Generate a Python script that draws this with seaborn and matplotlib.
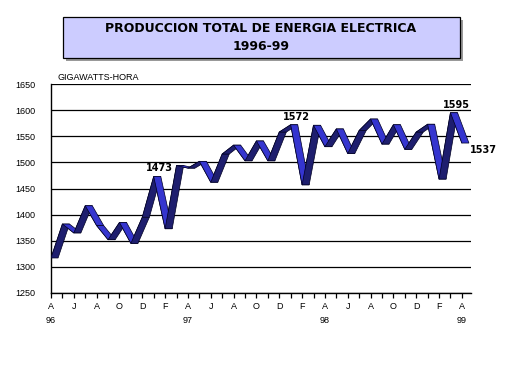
import numpy as np
import pandas as pd
import matplotlib
matplotlib.use("Agg")
import matplotlib.pyplot as plt
import seaborn as sns

# datos mensuales abril 1996 - abril 1999 (gigawatts-hora)
meses = ["A", "M", "J", "J", "A", "S", "O", "N", "D", "E", "F", "M"] * 3 + ["A"]
anios = {0: "96", 12: "97", 24: "98", 36: "99"}
produccion = [1317, 1382, 1365, 1417, 1379, 1352, 1385, 1345, 1395, 1473,
              1373, 1494, 1489, 1502, 1462, 1516, 1533, 1503, 1541, 1503,
              1558, 1572, 1457, 1571, 1530, 1564, 1517, 1561, 1583, 1535,
              1572, 1525, 1558, 1573, 1468, 1595, 1537]
etiquetas = {9: "1473", 21: "1572", 35: "1595", 36: "1537"}

df = pd.DataFrame({"mes": np.arange(len(produccion)), "gwh": produccion})

sns.set_style("white")
plt.rcParams["font.family"] = ["Liberation Sans", "DejaVu Sans"]
plt.rcParams["text.color"] = "black"
plt.rcParams["xtick.color"] = "black"
plt.rcParams["ytick.color"] = "black"

fig = plt.figure(figsize=(5.18, 3.69), dpi=100)
ax = fig.add_axes([51 / 518, 1 - 293 / 369, 420 / 518, 209 / 369])

# linea base con seaborn
sns.lineplot(data=df, x="mes", y="gwh", ax=ax, color="#000033", lw=0.6, zorder=3)

# cinta 3D: cada tramo como paralelogramo con profundidad hacia la derecha
dx, dy = 0.62, 0.0
x = df["mes"].values
y = df["gwh"].values
for i in range(len(x) - 1):
    xs = [x[i], x[i + 1], x[i + 1] + dx, x[i] + dx]
    ys = [y[i], y[i + 1], y[i + 1] + dy, y[i] + dy]
    color = "#1e1e6e" if y[i + 1] > y[i] else "#3535cf"
    ax.fill(xs, ys, facecolor=color, edgecolor="#000022", lw=0.5, zorder=4)

# etiquetas de datos
for i, txt in etiquetas.items():
    if i == 36:
        ax.text(x[i] + 0.7, y[i] - 3, txt, ha="left", va="top", family="DejaVu Sans",
                fontsize=7, fontweight="bold", zorder=5)
    else:
        ax.text(x[i] + 0.5, y[i] + 6, txt, ha="center", va="bottom", family="DejaVu Sans",
                fontsize=7, fontweight="bold", zorder=5)

ax.set_xlim(0, 36.8)
ax.set_ylim(1250, 1650)
ax.set_yticks(np.arange(1250, 1651, 50))
ax.yaxis.grid(True, color="black", lw=0.9)
ax.set_axisbelow(True)

xt = list(range(len(meses)))
xl = []
for i in xt:
    if i % 2 == 0:
        xl.append(meses[i] + ("\n" + anios[i] if i in anios else ""))
    else:
        xl.append("")
ax.set_xticks(xt)
ax.set_xticklabels(xl, linespacing=1.75)
ax.tick_params(axis="x", direction="out", length=3.5, width=0.9, color="black",
               labelsize=6.5, pad=3, bottom=True)
ax.tick_params(axis="y", length=0, labelsize=6.5, pad=11)

for s in ["top", "right"]:
    ax.spines[s].set_visible(False)
for s in ["left", "bottom"]:
    ax.spines[s].set_color("black")
    ax.spines[s].set_linewidth(1.0)

ax.set_xlabel("")
ax.set_ylabel("")

fig.text(58 / 518, 1 - 77 / 369, "GIGAWATTS-HORA", fontsize=6.5, va="center", ha="left")

# recuadro del titulo con sombra
sombra = plt.Rectangle((66 / 518, 1 - 61 / 369), 397 / 518, 41 / 369,
                       transform=fig.transFigure, facecolor="#999999",
                       edgecolor="none", zorder=1)
caja = plt.Rectangle((63 / 518, 1 - 58 / 369), 397 / 518, 41 / 369,
                     transform=fig.transFigure, facecolor="#ccccff",
                     edgecolor="black", lw=0.9, zorder=2)
fig.patches.extend([sombra, caja])
fig.text(261 / 518, 1 - 29 / 369, "PRODUCCION TOTAL DE ENERGIA ELECTRICA",
         ha="center", va="center", fontsize=9, fontweight="bold",
         family="DejaVu Sans", zorder=3)
fig.text(261 / 518, 1 - 46 / 369, "1996-99",
         ha="center", va="center", fontsize=9, fontweight="bold",
         family="DejaVu Sans", zorder=3)

fig.savefig("out.png", dpi=100, facecolor="white")
